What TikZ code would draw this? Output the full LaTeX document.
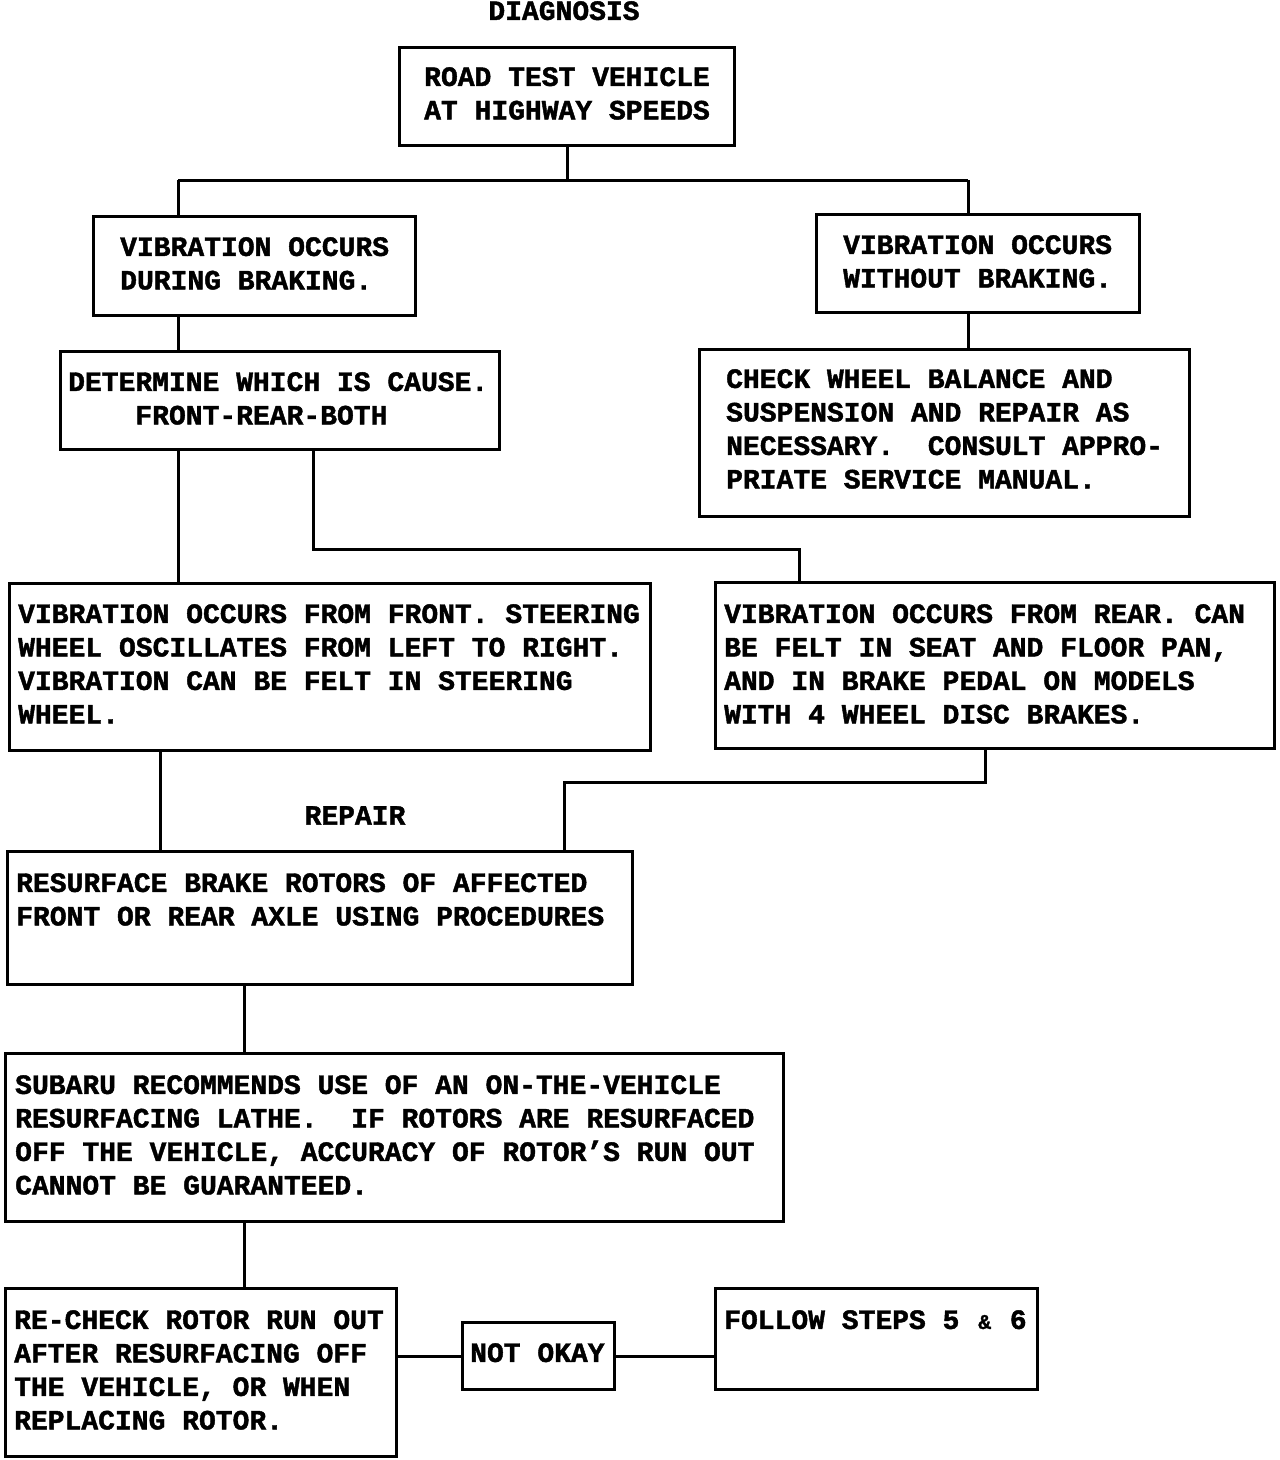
\documentclass[tikz,border=0pt]{standalone}
\usepackage{fontspec}
\newfontfamily\flowfont{Liberation Mono}[BoldFeatures={FakeBold=1.5}]
\begin{document}
\begin{tikzpicture}[x=1pt,y=-1pt,
  box/.style={draw, line width=3pt, rectangle, inner sep=0pt, anchor=north west},
  txt/.style={inner sep=0pt, anchor=north west, align=left,
    font=\flowfont\bfseries\fontsize{28}{33.5}\selectfont\frenchspacing},
  ttl/.style={inner sep=0pt, anchor=north,
    font=\flowfont\bfseries\fontsize{28}{33.5}\selectfont},
  conn/.style={line width=3pt}]
\fill[white] (0,0) rectangle (1280,1460);
\useasboundingbox (0,0) rectangle (1280,1460);

% titles
\node[ttl] (tdiag) at (564,1) {DIAGNOSIS};
\node[ttl] (trep) at (355,806) {REPAIR};

% boxes
\node[box, minimum width=335pt, minimum height=98pt] (A) at (398,46) {};
\node[box, minimum width=322pt, minimum height=99pt] (B) at (92,215) {};
\node[box, minimum width=323pt, minimum height=98pt] (C) at (815,213) {};
\node[box, minimum width=439pt, minimum height=98pt] (D) at (59,350) {};
\node[box, minimum width=490pt, minimum height=167pt] (E) at (698,348) {};
\node[box, minimum width=641pt, minimum height=167pt] (F) at (8,582) {};
\node[box, minimum width=559pt, minimum height=166pt] (G) at (714,581) {};
\node[box, minimum width=625pt, minimum height=133pt] (H) at (6,850) {};
\node[box, minimum width=778pt, minimum height=168pt] (I) at (4,1052) {};
\node[box, minimum width=391pt, minimum height=168pt] (J) at (4,1287) {};
\node[box, minimum width=152pt, minimum height=67pt] (K) at (461,1321) {};
\node[box, minimum width=322pt, minimum height=101pt] (L) at (714,1287) {};

% texts
\node[txt] (tA) at (424,67) {ROAD TEST VEHICLE\\AT HIGHWAY SPEEDS};
\node[txt] (tB) at (120,237) {VIBRATION OCCURS\\DURING BRAKING.};
\node[txt] (tC) at (843,235) {VIBRATION OCCURS\\WITHOUT BRAKING.};
\node[txt] (tD) at (68,372) {DETERMINE WHICH IS CAUSE.\\\phantom{XXXX}FRONT-REAR-BOTH};
\node[txt] (tE) at (726,369) {CHECK WHEEL BALANCE AND\\SUSPENSION AND REPAIR AS\\NECESSARY.\ \ CONSULT APPRO-\\PRIATE SERVICE MANUAL.};
\node[txt] (tF) at (18,604) {VIBRATION OCCURS FROM FRONT. STEERING\\WHEEL OSCILLATES FROM LEFT TO RIGHT.\\VIBRATION CAN BE FELT IN STEERING\\WHEEL.};
\node[txt] (tG) at (724,604) {VIBRATION OCCURS FROM REAR. CAN\\BE FELT IN SEAT AND FLOOR PAN,\\AND IN BRAKE PEDAL ON MODELS\\WITH 4 WHEEL DISC BRAKES.};
\node[txt] (tH) at (16,873) {RESURFACE BRAKE ROTORS OF AFFECTED\\FRONT OR REAR AXLE USING PROCEDURES};
\node[txt] (tI) at (15,1075) {SUBARU RECOMMENDS USE OF AN ON-THE-VEHICLE\\RESURFACING LATHE.\ \ IF ROTORS ARE RESURFACED\\OFF THE VEHICLE, ACCURACY OF ROTOR’S RUN OUT\\CANNOT BE GUARANTEED.};
\node[txt] (tJ) at (14,1310) {RE-CHECK ROTOR RUN OUT\\AFTER RESURFACING OFF\\THE VEHICLE, OR WHEN\\REPLACING ROTOR.};
\node[txt] (tK) at (470,1343) {NOT OKAY};
\node[txt] (tL) at (724,1310) {FOLLOW STEPS 5 \makebox[16.8pt]{\fontsize{21}{21}\selectfont\&} 6};

% connector coordinates
\coordinate (hl) at (178,180);
\coordinate (hr) at (968,180);
\coordinate (dg1) at (313,549);
\coordinate (dg2) at (799,549);
\coordinate (fh) at (160,800);
\coordinate (gh1) at (985,782);
\coordinate (gh2) at (564,782);
\coordinate (hi) at (244,1000);

% connectors
\draw[conn] (A.south) -- (A.south |- hl);
\draw[conn] (hl) -- (hr);
\draw[conn] (hl) -- (hl |- B.north);
\draw[conn] (hr) -- (hr |- C.north);
\draw[conn] (hl |- B.south) -- (hl |- D.north);
\draw[conn] (hr |- C.south) -- (hr |- E.north);
\draw[conn] (hl |- D.south) -- (hl |- F.north);
\draw[conn] (dg1 |- D.south) -- (dg1) -- (dg2) -- (dg2 |- G.north);
\draw[conn] (fh |- F.south) -- (fh |- H.north);
\draw[conn] (gh1 |- G.south) -- (gh1) -- (gh2) -- (gh2 |- H.north);
\draw[conn] (hi |- H.south) -- (hi |- I.north);
\draw[conn] (hi |- I.south) -- (hi |- J.north);
\draw[conn] (K.west -| J.east) -- (K.west);
\draw[conn] (K.east) -- (K.east -| L.west);
\end{tikzpicture}
\end{document}
